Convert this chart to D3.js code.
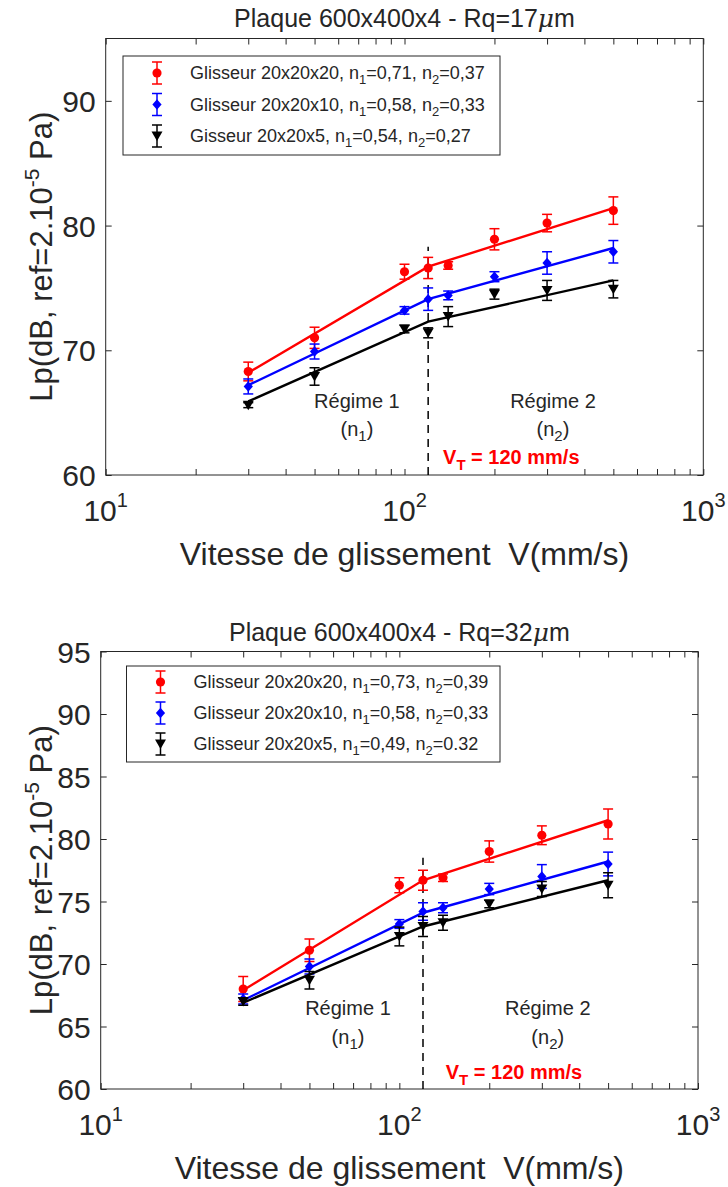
<!DOCTYPE html>
<html><head><meta charset="utf-8">
<script src="https://cdn.jsdelivr.net/npm/d3@7"></script>
<style>
body{margin:0;background:#fff;}
text{font-family:"Liberation Sans",Arial,Helvetica,sans-serif;fill:#262626;}
</style></head>
<body>
<svg id="c" width="728" height="1187"></svg>
<script>
// ---------- DATA ----------
const speeds = [30, 50, 100, 120, 140, 200, 300, 500];
const fitSpeeds = [30, 120, 500];
const transitionSpeed = 120;

// Top chart (Rq = 17 µm)
const topRed = [68.3, 71.0, 76.3, 76.6, 76.8, 78.9, 80.2, 81.2];
const topRedErr = [0.75, 0.85, 0.6, 0.85, 0.3, 0.85, 0.7, 1.1];
const topBlue = [67.1, 69.9, 73.2, 74.1, 74.4, 75.9, 77.0, 77.9];
const topBlueErr = [0.6, 0.6, 0.3, 0.9, 0.35, 0.4, 0.9, 0.9];
const topBlack = [65.6, 67.9, 71.7, 71.4, 72.7, 74.5, 74.8, 74.9];
const topBlackErr = [0.2, 0.7, 0.3, 0.4, 0.8, 0.4, 0.8, 0.7];
const topFitRed = [68.2, 76.7, 81.4];
const topFitBlue = [67.2, 74.1, 78.2];
const topFitBlack = [65.9, 72.3, 75.6];
const topLabels = ["Glisseur 20x20x20", "Glisseur 20x20x10", "Gisseur 20x20x5"];
const topN1 = ["0,71", "0,58", "0,54"];
const topN2 = ["0,37", "0,33", "0,27"];
const topYTicks = [60, 70, 80, 90];

// Bottom chart (Rq = 32 µm)
const botRed = [68.0, 71.1, 76.3, 76.7, 76.9, 79.0, 80.3, 81.2];
const botRedErr = [1.0, 0.9, 0.6, 0.8, 0.3, 0.85, 0.75, 1.2];
const botBlue = [67.2, 69.8, 73.2, 74.2, 74.5, 76.0, 77.0, 78.0];
const botBlueErr = [0.4, 0.6, 0.35, 0.7, 0.4, 0.45, 0.95, 0.95];
const botBlack = [67.0, 68.7, 72.2, 73.0, 73.3, 74.8, 76.0, 76.3];
const botBlackErr = [0.3, 0.7, 0.75, 0.8, 0.6, 0.3, 0.6, 1.0];
const botFitRed = [67.9, 76.7, 81.5];
const botFitBlue = [67.1, 74.1, 78.2];
const botFitBlack = [66.9, 73.0, 76.7];
const botLabels = ["Glisseur 20x20x20", "Glisseur 20x20x10", "Glisseur 20x20x5"];
const botN1 = ["0,73", "0,58", "0,49"];
const botN2 = ["0,39", "0,33", "0.32"];
const botYTicks = [60, 65, 70, 75, 80, 85, 90, 95];

const xTickExps = [1, 2, 3];
const titles = ["Plaque 600x400x4 - Rq=17", "Plaque 600x400x4 - Rq=32"];
const xLabel = "Vitesse de glissement \u00a0V(mm/s)";
const vtLabel = "= 120 mm/s";

// ---------- DRAW ----------
const svg = d3.select("#c");
const AX = "#262626";
const colors = ["#ff0000", "#0000ff", "#000000"];
const markers = ["circle", "diamond", "tri"];

function markerPath(kind) {
  if (kind === "circle") return d3.symbol(d3.symbolCircle, 66)();
  if (kind === "diamond") return "M0,-5.2L4.6,0L0,5.2L-4.6,0Z";
  return "M-5.5,-4.5L5.5,-4.5L0,5Z";
}

function drawChart(cfg) {
  const g = svg.append("g");
  const x = d3.scaleLog().domain([10, 1000]).range([cfg.left, cfg.right]);
  const y = d3.scaleLinear().domain([60, 95]).range([cfg.bottom, cfg.top]);

  // title
  const t = g.append("text").attr("x", (cfg.left + cfg.right) / 2).attr("y", cfg.titleY)
    .attr("text-anchor", "middle").style("font-size", "25px");
  t.append("tspan").text(cfg.title);
  t.append("tspan").style("font-family", "'DejaVu Serif',serif").style("font-style", "italic").text("\u03bc");
  t.append("tspan").text("m");

  // axes (ticks inside, box)
  const tl = 6;
  const xMajor = xTickExps.map(e => Math.pow(10, e));
  const xMinor = [];
  for (let d = 10; d < 1000; d *= 10) for (let k = 2; k <= 9; k++) xMinor.push(d * k);
  const axB = d3.axisBottom(x).tickValues(xMajor.concat(xMinor)).tickSize(-tl).tickFormat("");
  const axT = d3.axisTop(x).tickValues(xMajor.concat(xMinor)).tickSize(-tl).tickFormat("");
  const axL = d3.axisLeft(y).tickValues(cfg.yTicks).tickSize(-tl).tickFormat("");
  const axR = d3.axisRight(y).tickValues(cfg.yTicks).tickSize(-tl).tickFormat("");
  [[axB, `translate(0,${cfg.bottom})`], [axT, `translate(0,${cfg.top})`],
   [axL, `translate(${cfg.left},0)`], [axR, `translate(${cfg.right},0)`]].forEach(([a, tr]) => {
    const ga = g.append("g").attr("transform", tr).call(a);
    ga.select(".domain").remove();
    ga.selectAll("line").attr("stroke", AX).attr("stroke-width", 1);
  });
  g.append("rect").attr("x", cfg.left).attr("y", cfg.top)
    .attr("width", cfg.right - cfg.left).attr("height", cfg.bottom - cfg.top)
    .attr("fill", "none").attr("stroke", AX).attr("stroke-width", 1);

  // y tick labels
  g.selectAll(".yl").data(cfg.yTicks).enter().append("text")
    .attr("x", cfg.left - 10).attr("y", d => y(d) + 11)
    .attr("text-anchor", "end").style("font-size", "30px").text(d => d);
  // x tick labels
  xTickExps.forEach(e => {
    const tx = g.append("text").attr("x", x(Math.pow(10, e))).attr("y", cfg.bottom + 46)
      .attr("text-anchor", "middle").style("font-size", "30px");
    tx.append("tspan").text("10");
    tx.append("tspan").attr("dy", -14).style("font-size", "20px").text(e);
  });
  // axis labels
  g.append("text").attr("x", (cfg.left + cfg.right) / 2).attr("y", cfg.bottom + 90)
    .attr("text-anchor", "middle").style("font-size", "32px").text(xLabel);
  const yl = g.append("text").attr("transform", `translate(52,${(cfg.top + cfg.bottom) / 2}) rotate(-90)`)
    .attr("text-anchor", "middle").style("font-size", "31px");
  yl.append("tspan").text("Lp(dB, ref=2.10");
  yl.append("tspan").attr("dy", -13).style("font-size", "21px").text("-5");
  yl.append("tspan").attr("dy", 13).text(" Pa)");

  // dashed transition line
  g.append("line").attr("x1", x(transitionSpeed)).attr("x2", x(transitionSpeed))
    .attr("y1", y(60)).attr("y2", y(cfg.dashTop))
    .attr("stroke", "#000").attr("stroke-width", 1.5).attr("stroke-dasharray", "8,6");

  // series
  cfg.series.forEach((s, i) => {
    const c = colors[i];
    const line = d3.line().x((d, j) => x(fitSpeeds[j])).y(d => y(d));
    g.append("path").attr("d", line(s.fit)).attr("fill", "none").attr("stroke", c).attr("stroke-width", 2.4);
    const eg = g.append("g");
    speeds.forEach((v, j) => {
      const cx = x(v), y0 = y(s.vals[j] - s.err[j]), y1 = y(s.vals[j] + s.err[j]);
      eg.append("line").attr("x1", cx).attr("x2", cx).attr("y1", y0).attr("y2", y1).attr("stroke", c).attr("stroke-width", 1.5);
      [y0, y1].forEach(yy => eg.append("line").attr("x1", cx - 5).attr("x2", cx + 5).attr("y1", yy).attr("y2", yy).attr("stroke", c).attr("stroke-width", 1.5));
      eg.append("path").attr("d", markerPath(markers[i])).attr("transform", `translate(${cx},${y(s.vals[j])})`).attr("fill", c);
    });
  });

  // annotations
  const an = (vx, vy, anchor) => g.append("text").attr("x", x(vx)).attr("y", y(vy)).attr("text-anchor", anchor).style("font-size", "20px");
  an(cfg.r1x, cfg.rY, "middle").text("Régime 1");
  const n1 = an(cfg.r1x, cfg.nY, "middle");
  n1.append("tspan").text("(n"); n1.append("tspan").attr("dy", 5).style("font-size", "15px").text("1"); n1.append("tspan").attr("dy", -5).text(")");
  an(cfg.r2x, cfg.rY, "middle").text("Régime 2");
  const n2 = an(cfg.r2x, cfg.nY, "middle");
  n2.append("tspan").text("(n"); n2.append("tspan").attr("dy", 5).style("font-size", "15px").text("2"); n2.append("tspan").attr("dy", -5).text(")");
  const vt = an(cfg.vtx, cfg.vtY, "start").style("font-weight", "bold").style("fill", "#ff0000");
  vt.append("tspan").style("fill", "#ff0000").text("V");
  vt.append("tspan").attr("dy", 6).style("fill", "#ff0000").style("font-size", "15px").text("T");
  vt.append("tspan").attr("dy", -6).style("fill", "#ff0000").text(" " + vtLabel);

  // legend
  const L = cfg.legend;
  g.append("rect").attr("x", L.x).attr("y", L.y).attr("width", L.w).attr("height", L.h)
    .attr("fill", "#fff").attr("stroke", AX).attr("stroke-width", 1);
  cfg.labels.forEach((lab, i) => {
    const ry = L.y + L.first + i * L.step;
    const c = colors[i], mx = L.x + 34;
    g.append("line").attr("x1", mx).attr("x2", mx).attr("y1", ry - 11).attr("y2", ry + 11).attr("stroke", c).attr("stroke-width", 1.5);
    [ry - 11, ry + 11].forEach(yy => g.append("line").attr("x1", mx - 5).attr("x2", mx + 5).attr("y1", yy).attr("y2", yy).attr("stroke", c).attr("stroke-width", 1.5));
    g.append("path").attr("d", markerPath(markers[i])).attr("transform", `translate(${mx},${ry})`).attr("fill", c);
    const tx = g.append("text").attr("x", L.x + 67).attr("y", ry + 6).style("font-size", "18px");
    tx.append("tspan").text(lab + ", n");
    tx.append("tspan").attr("dy", 5).style("font-size", "13px").text("1");
    tx.append("tspan").attr("dy", -5).text("=" + cfg.n1[i] + ", n");
    tx.append("tspan").attr("dy", 5).style("font-size", "13px").text("2");
    tx.append("tspan").attr("dy", -5).text("=" + cfg.n2[i]);
  });
}

drawChart({
  left: 105.7, right: 703.3, top: 38.5, bottom: 475, titleY: 27,
  title: titles[0], yTicks: topYTicks, dashTop: 78.3,
  series: [
    {vals: topRed, err: topRedErr, fit: topFitRed},
    {vals: topBlue, err: topBlueErr, fit: topFitBlue},
    {vals: topBlack, err: topBlackErr, fit: topFitBlack}],
  labels: topLabels, n1: topN1, n2: topN2,
  legend: {x: 123, y: 56, w: 377, h: 99, first: 17, step: 31.5},
  r1x: 69.3, r2x: 314, rY: 65.4, nY: 63.1, vtx: 134.6, vtY: 60.9
});
drawChart({
  left: 100.7, right: 698, top: 651.5, bottom: 1089, titleY: 641,
  title: titles[1], yTicks: botYTicks, dashTop: 78.5,
  series: [
    {vals: botRed, err: botRedErr, fit: botFitRed},
    {vals: botBlue, err: botBlueErr, fit: botFitBlue},
    {vals: botBlack, err: botBlackErr, fit: botFitBlack}],
  labels: botLabels, n1: botN1, n2: botN2,
  legend: {x: 126.5, y: 666, w: 373.5, h: 96, first: 16, step: 31},
  r1x: 67.3, r2x: 314, rY: 65.9, nY: 63.6, vtx: 143, vtY: 60.8
});
</script>
</body></html>
